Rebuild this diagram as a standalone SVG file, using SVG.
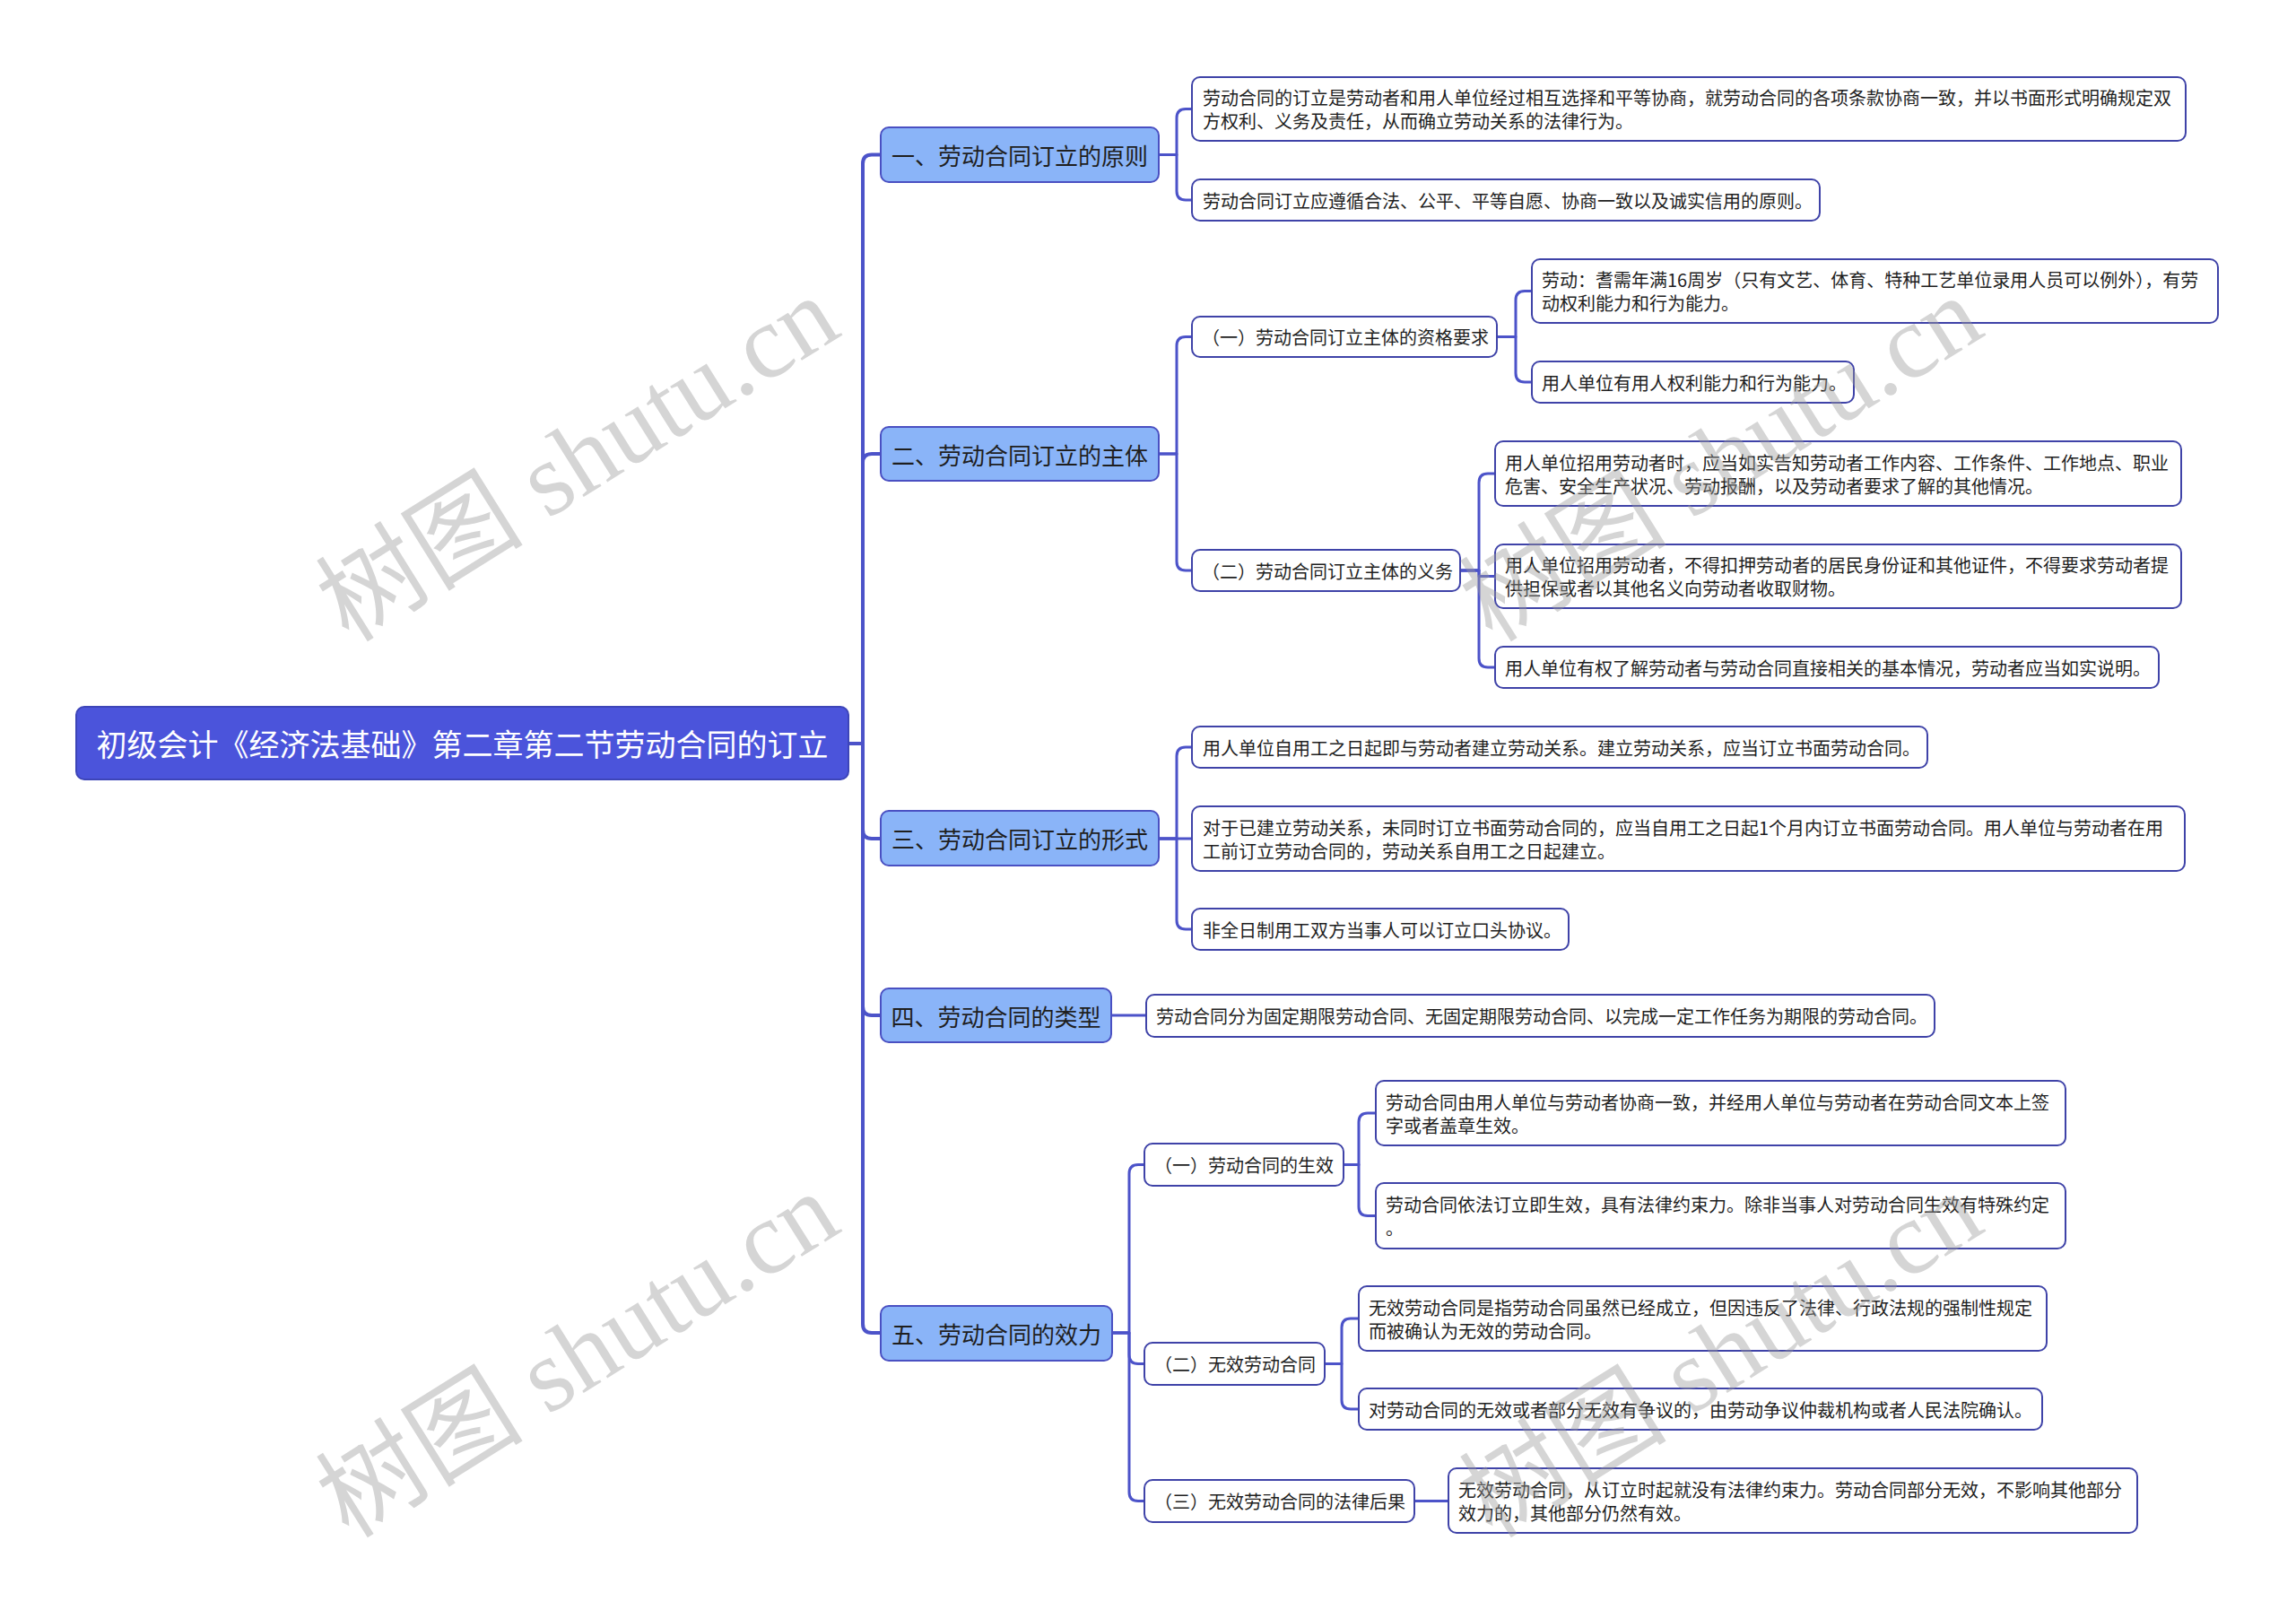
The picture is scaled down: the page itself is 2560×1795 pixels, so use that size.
<svg xmlns="http://www.w3.org/2000/svg" width="2560" height="1795" viewBox="0 0 2560 1795">
<style>
.bg{fill:#ffffff}
.lk{fill:none;stroke:#4C53C9;stroke-width:3;stroke-linejoin:round}
.lk1{fill:none;stroke:#4C53C9;stroke-width:4;stroke-linejoin:round}
.root{fill:#4B54DB;stroke:#3D45B8;stroke-width:2}
.l1{fill:#8AB4F8;stroke:#4A50C2;stroke-width:2}
.box{fill:#ffffff;stroke:#3F43A8;stroke-width:2}
text{font-family:"Noto Sans CJK SC","Noto Sans",sans-serif;dominant-baseline:central}
.tr{font-size:34px;fill:#ffffff;text-anchor:middle}
.t1{font-size:26px;fill:#1f1f1f;text-anchor:middle}
.t2{font-size:20px;fill:#1f1f1f}
.wm{font-family:"Liberation Serif","Noto Sans CJK SC",serif;font-size:116px;fill:#9a9a9a;fill-opacity:0.42;text-anchor:middle;dominant-baseline:alphabetic}
</style>
<rect class="bg" x="0" y="0" width="2560" height="1795"/>
<g id="connectors">
<path class="lk1" d="M946 829 H962 V182.5 Q962 172.5 972 172.5 H982"/>
<path class="lk1" d="M946 829 H962 V516 Q962 506 972 506 H982"/>
<path class="lk1" d="M946 829 H962 V925 Q962 935 972 935 H982"/>
<path class="lk1" d="M946 829 H962 V1122 Q962 1132 972 1132 H982"/>
<path class="lk1" d="M946 829 H962 V1476 Q962 1486 972 1486 H982"/>
<path class="lk" d="M1292 172.5 H1312 V131.5 Q1312 121.5 1322 121.5 H1329"/>
<path class="lk" d="M1292 172.5 H1312 V213 Q1312 223 1322 223 H1329"/>
<path class="lk" d="M1292 506 H1312 V385.5 Q1312 375.5 1322 375.5 H1329"/>
<path class="lk" d="M1292 506 H1312 V626 Q1312 636 1322 636 H1329"/>
<path class="lk" d="M1669 375.5 H1690 V334.5 Q1690 324.5 1700 324.5 H1708"/>
<path class="lk" d="M1669 375.5 H1690 V416 Q1690 426 1700 426 H1708"/>
<path class="lk" d="M1628 636 H1649 V538 Q1649 528 1659 528 H1667"/>
<path class="lk" d="M1628 636 H1649 V642.5 H1667"/>
<path class="lk" d="M1628 636 H1649 V734 Q1649 744 1659 744 H1667"/>
<path class="lk" d="M1292 935 H1312 V843 Q1312 833 1322 833 H1329"/>
<path class="lk" d="M1292 935 H1329"/>
<path class="lk" d="M1292 935 H1312 V1026 Q1312 1036 1322 1036 H1329"/>
<path class="lk" d="M1239 1132 H1278"/>
<path class="lk" d="M1240 1486 H1259 V1308.5 Q1259 1298.5 1269 1298.5 H1276"/>
<path class="lk" d="M1240 1486 H1259 V1510.5 Q1259 1520.5 1269 1520.5 H1276"/>
<path class="lk" d="M1240 1486 H1259 V1663.5 Q1259 1673.5 1269 1673.5 H1276"/>
<path class="lk" d="M1498 1298.5 H1515 V1251 Q1515 1241 1525 1241 H1534"/>
<path class="lk" d="M1498 1298.5 H1515 V1345.5 Q1515 1355.5 1525 1355.5 H1534"/>
<path class="lk" d="M1477 1520.5 H1496 V1480 Q1496 1470 1506 1470 H1515"/>
<path class="lk" d="M1477 1520.5 H1496 V1561 Q1496 1571 1506 1571 H1515"/>
<path class="lk" d="M1577 1673.5 H1615"/>
</g>
<g id="root"><rect class="root" x="85" y="788" width="861" height="81" rx="9"/><text class="tr" x="515.5" y="828.5">初级会计《经济法基础》第二章第二节劳动合同的订立</text></g>
<g id="n1"><rect class="l1" x="982" y="142" width="310" height="61" rx="9"/><text class="t1" x="1137" y="172.5">一、劳动合同订立的原则</text></g>
<g id="n1a"><rect class="box" x="1329" y="86" width="1108" height="71" rx="9"/><text class="t2" x="1341" y="108">劳动合同的订立是劳动者和用人单位经过相互选择和平等协商，就劳动合同的各项条款协商一致，并以书面形式明确规定双</text><text class="t2" x="1341" y="134">方权利、义务及责任，从而确立劳动关系的法律行为。</text></g>
<g id="n1b"><rect class="box" x="1329" y="200" width="700" height="46" rx="9"/><text class="t2" x="1341" y="223">劳动合同订立应遵循合法、公平、平等自愿、协商一致以及诚实信用的原则。</text></g>
<g id="n2"><rect class="l1" x="982" y="476" width="310" height="60" rx="9"/><text class="t1" x="1137" y="506">二、劳动合同订立的主体</text></g>
<g id="n2a"><rect class="box" x="1329" y="353" width="340" height="45" rx="9"/><text class="t2" x="1340" y="375.5">（一）劳动合同订立主体的资格要求</text></g>
<g id="n2a1"><rect class="box" x="1708" y="289" width="765" height="71" rx="9"/><text class="t2" x="1719" y="311">劳动：耆需年满16周岁（只有文艺、体育、特种工艺单位录用人员可以例外），有劳</text><text class="t2" x="1719" y="337">动权利能力和行为能力。</text></g>
<g id="n2a2"><rect class="box" x="1708" y="403" width="359" height="46" rx="9"/><text class="t2" x="1719" y="426">用人单位有用人权利能力和行为能力。</text></g>
<g id="n2b"><rect class="box" x="1329" y="613" width="299" height="46" rx="9"/><text class="t2" x="1340" y="636">（二）劳动合同订立主体的义务</text></g>
<g id="n2b1"><rect class="box" x="1667" y="492" width="765" height="72" rx="9"/><text class="t2" x="1678" y="515">用人单位招用劳动者时，应当如实告知劳动者工作内容、工作条件、工作地点、职业</text><text class="t2" x="1678" y="541">危害、安全生产状况、劳动报酬，以及劳动者要求了解的其他情况。</text></g>
<g id="n2b2"><rect class="box" x="1667" y="607" width="765" height="71" rx="9"/><text class="t2" x="1678" y="629">用人单位招用劳动者，不得扣押劳动者的居民身份证和其他证件，不得要求劳动者提</text><text class="t2" x="1678" y="655">供担保或者以其他名义向劳动者收取财物。</text></g>
<g id="n2b3"><rect class="box" x="1667" y="721" width="740" height="46" rx="9"/><text class="t2" x="1678" y="744">用人单位有权了解劳动者与劳动合同直接相关的基本情况，劳动者应当如实说明。</text></g>
<g id="n3"><rect class="l1" x="982" y="904" width="310" height="61" rx="9"/><text class="t1" x="1137" y="934.5">三、劳动合同订立的形式</text></g>
<g id="n3a"><rect class="box" x="1329" y="810" width="820" height="46" rx="9"/><text class="t2" x="1341" y="833">用人单位自用工之日起即与劳动者建立劳动关系。建立劳动关系，应当订立书面劳动合同。</text></g>
<g id="n3b"><rect class="box" x="1329" y="899" width="1107" height="72" rx="9"/><text class="t2" x="1341" y="922">对于已建立劳动关系，未同时订立书面劳动合同的，应当自用工之日起1个月内订立书面劳动合同。用人单位与劳动者在用</text><text class="t2" x="1341" y="948">工前订立劳动合同的，劳动关系自用工之日起建立。</text></g>
<g id="n3c"><rect class="box" x="1329" y="1013" width="420" height="46" rx="9"/><text class="t2" x="1341" y="1036">非全日制用工双方当事人可以订立口头协议。</text></g>
<g id="n4"><rect class="l1" x="982" y="1102" width="257" height="60" rx="9"/><text class="t1" x="1110.5" y="1132">四、劳动合同的类型</text></g>
<g id="n4a"><rect class="box" x="1278" y="1109" width="879" height="47" rx="9"/><text class="t2" x="1289" y="1132.5">劳动合同分为固定期限劳动合同、无固定期限劳动合同、以完成一定工作任务为期限的劳动合同。</text></g>
<g id="n5"><rect class="l1" x="982" y="1456" width="258" height="61" rx="9"/><text class="t1" x="1111" y="1486.5">五、劳动合同的效力</text></g>
<g id="n5a"><rect class="box" x="1276" y="1275" width="222" height="47" rx="9"/><text class="t2" x="1287" y="1298.5">（一）劳动合同的生效</text></g>
<g id="n5a1"><rect class="box" x="1534" y="1205" width="769" height="72" rx="9"/><text class="t2" x="1545" y="1228">劳动合同由用人单位与劳动者协商一致，并经用人单位与劳动者在劳动合同文本上签</text><text class="t2" x="1545" y="1254">字或者盖章生效。</text></g>
<g id="n5a2"><rect class="box" x="1534" y="1319" width="769" height="73" rx="9"/><text class="t2" x="1545" y="1342">劳动合同依法订立即生效，具有法律约束力。除非当事人对劳动合同生效有特殊约定</text><text class="t2" x="1545" y="1368">。</text></g>
<g id="n5b"><rect class="box" x="1276" y="1497" width="201" height="47" rx="9"/><text class="t2" x="1287" y="1520.5">（二）无效劳动合同</text></g>
<g id="n5b1"><rect class="box" x="1515" y="1434" width="767" height="72" rx="9"/><text class="t2" x="1526" y="1457">无效劳动合同是指劳动合同虽然已经成立，但因违反了法律、行政法规的强制性规定</text><text class="t2" x="1526" y="1483">而被确认为无效的劳动合同。</text></g>
<g id="n5b2"><rect class="box" x="1515" y="1548" width="762" height="46" rx="9"/><text class="t2" x="1526" y="1571">对劳动合同的无效或者部分无效有争议的，由劳动争议仲裁机构或者人民法院确认。</text></g>
<g id="n5c"><rect class="box" x="1276" y="1650" width="301" height="47" rx="9"/><text class="t2" x="1287" y="1673.5">（三）无效劳动合同的法律后果</text></g>
<g id="n5c1"><rect class="box" x="1615" y="1637" width="768" height="72" rx="9"/><text class="t2" x="1626" y="1660">无效劳动合同，从订立时起就没有法律约束力。劳动合同部分无效，不影响其他部分</text><text class="t2" x="1626" y="1686">效力的，其他部分仍然有效。</text></g>
<g id="watermarks">
<text class="wm" x="665" y="545" transform="rotate(-32 665 545)">树图 shutu.cn</text>
<text class="wm" x="1940" y="545" transform="rotate(-32 1940 545)">树图 shutu.cn</text>
<text class="wm" x="665" y="1544" transform="rotate(-32 665 1544)">树图 shutu.cn</text>
<text class="wm" x="1940" y="1544" transform="rotate(-32 1940 1544)">树图 shutu.cn</text>
</g>
</svg>
